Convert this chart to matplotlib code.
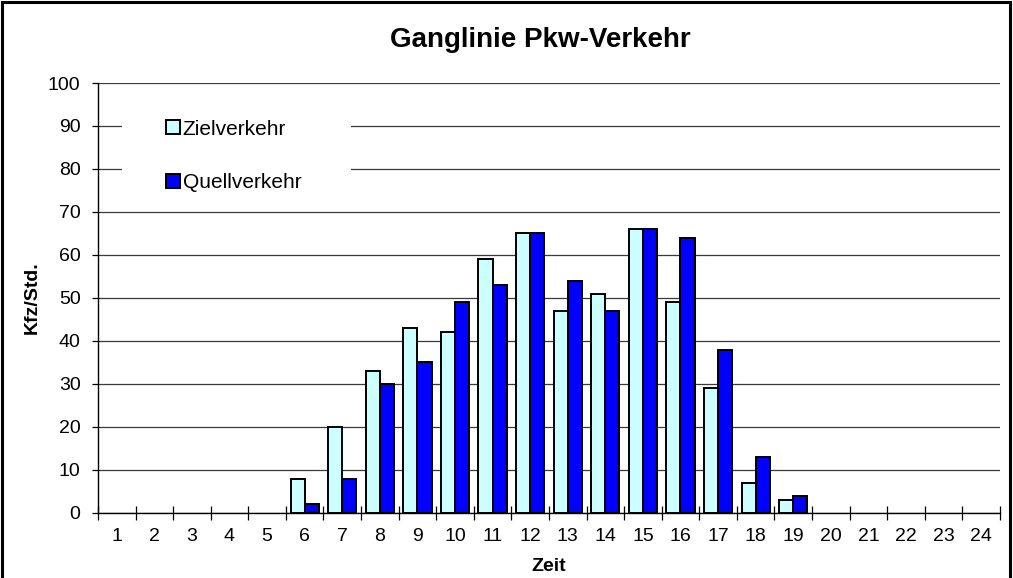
import matplotlib.pyplot as plt
import numpy as np
from matplotlib.patches import Rectangle, Patch

plt.rcParams['font.family'] = ['Liberation Sans', 'DejaVu Sans']

hours = list(range(1, 25))
ziel = [0, 0, 0, 0, 0, 8, 20, 33, 43, 42, 59, 65, 47, 51, 66, 49, 29, 7, 3, 0, 0, 0, 0, 0]
quell = [0, 0, 0, 0, 0, 2, 8, 30, 35, 49, 53, 65, 54, 47, 66, 64, 38, 13, 4, 0, 0, 0, 0, 0]

fig = plt.figure(figsize=(10.13, 5.78), dpi=100)
ax = fig.add_axes([0.0967, 0.1125, 0.8904, 0.7439])

# rahmen um das ganze diagramm (unten abgeschnitten)
fig.patches.append(Rectangle((0.002, -0.05), 0.995, 1.046, transform=fig.transFigure,
                             fill=False, edgecolor='k', linewidth=2.2))

x = np.array(hours)
w = 0.375
lw_z = [1.4 if v > 0 else 0 for v in ziel]
lw_q = [1.4 if v > 0 else 0 for v in quell]
ax.bar(x - w / 2, ziel, width=w, color='#CCFFFF', edgecolor='k', linewidth=lw_z, zorder=2)
ax.bar(x + w / 2, quell, width=w, color='#0000FF', edgecolor='k', linewidth=lw_q, zorder=2)

ax.set_xlim(0.5, 24.5)
ax.set_ylim(0, 100)
ax.set_yticks(range(0, 101, 10))
ax.yaxis.grid(True, color='#3a3a3a', linewidth=0.9, zorder=0)
ax.set_axisbelow(True)

ax.set_xticks(hours)
ax.set_xticks(np.arange(0.5, 25, 1), minor=True)
ax.tick_params(axis='x', which='major', length=0, labelsize=14, pad=11)
ax.tick_params(axis='x', which='minor', length=9.5, direction='inout', width=0.9)
ax.tick_params(axis='y', length=4.5, width=0.9, labelsize=14, pad=8)

for s in ['top', 'right']:
    ax.spines[s].set_visible(False)
for s in ['left', 'bottom']:
    ax.spines[s].set_linewidth(1.0)

ax.set_xlabel('Zeit', fontsize=14, fontweight='bold', labelpad=9)
ax.set_ylabel('Kfz/Std.', fontsize=14, fontweight='bold', labelpad=5)
fig.text(0.533, 0.919, 'Ganglinie Pkw-Verkehr', ha='center', va='baseline',
         fontsize=20, fontweight='bold')

# weisser hintergrund der legende
ax.add_patch(Rectangle((0.027, 0.74), 0.253, 0.21, transform=ax.transAxes,
                       facecolor='white', edgecolor='none', zorder=1))
handles = [Patch(facecolor='#CCFFFF', edgecolor='k', linewidth=1.4),
           Patch(facecolor='#0000FF', edgecolor='k', linewidth=1.4)]
ax.legend(handles, ['Zielverkehr', 'Quellverkehr'], loc='upper left',
          bbox_to_anchor=(0.0754, 0.915), frameon=False, fontsize=15,
          handlelength=0.65, handleheight=0.65, handletextpad=0.15,
          labelspacing=1.65, borderpad=0, borderaxespad=0)

fig.savefig('out.png', dpi=100)
